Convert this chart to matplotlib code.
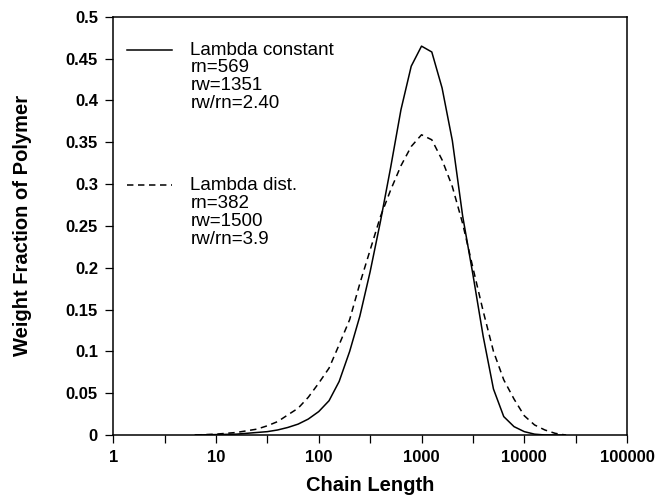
"""Weight fraction of polymer vs chain length, lambda constant vs lambda distribution."""
import matplotlib
matplotlib.use("Agg")
import matplotlib.pyplot as plt
from matplotlib.lines import Line2D

plt.rcParams["font.family"] = ["Liberation Sans", "DejaVu Sans"]

# chain lengths (log spaced)
chain = [6.3, 10, 15.8, 25, 31.6, 39.8, 50, 63, 79, 100, 126, 158, 200, 251, 316,
         398, 501, 631, 794, 1000, 1259, 1585, 1995, 2512, 3162, 3981, 5012, 6310,
         7943, 10000, 12589, 15849, 19953, 25119]

lam_const = [0.0, 0.0005, 0.001, 0.003, 0.004, 0.006, 0.009, 0.013, 0.019, 0.028,
             0.041, 0.064, 0.100, 0.142, 0.195, 0.255, 0.320, 0.389, 0.441, 0.465,
             0.458, 0.415, 0.352, 0.262, 0.192, 0.118, 0.055, 0.022, 0.010, 0.004,
             0.001, 0.0, 0.0, 0.0]

lam_dist = [0.0, 0.001, 0.003, 0.007, 0.011, 0.016, 0.024, 0.032, 0.045, 0.062,
            0.080, 0.108, 0.138, 0.181, 0.221, 0.261, 0.293, 0.322, 0.345, 0.359,
            0.353, 0.329, 0.297, 0.253, 0.200, 0.148, 0.100, 0.066, 0.043, 0.023,
            0.012, 0.006, 0.002, 0.0]

xticks = [1, 10, 100, 1000, 10000, 100000]
xticklabels = ["1", "10", "100", "1000", "10000", "100000"]
xminor = [3.162, 31.62, 316.2, 3162, 31623]
yticks = [0, 0.05, 0.1, 0.15, 0.2, 0.25, 0.3, 0.35, 0.4, 0.45, 0.5]
yticklabels = ["0", "0.05", "0.1", "0.15", "0.2", "0.25", "0.3", "0.35", "0.4", "0.45", "0.5"]

label_const = "Lambda constant\nrn=569\nrw=1351\nrw/rn=2.40"
label_dist = "Lambda dist.\nrn=382\nrw=1500\nrw/rn=3.9"

DASH = (0, (4.2, 3))

fig = plt.figure(figsize=(6.58, 4.96), dpi=100)
ax = fig.add_axes([0.172, 0.123, 0.781, 0.843])

ax.plot(chain, lam_const, color="black", lw=1.1)
ax.plot(chain, lam_dist, color="black", lw=1.1, linestyle=DASH)

ax.set_xscale("log")
ax.set_xlim(1, 100000)
ax.set_ylim(0, 0.5)
ax.set_xticks(xticks)
ax.set_xticklabels(xticklabels)
ax.set_xticks(xminor, minor=True)
ax.set_xticklabels([""] * len(xminor), minor=True)
ax.set_yticks(yticks)
ax.set_yticklabels(yticklabels)
ax.tick_params(axis="both", which="both", direction="out", length=6, width=0.9,
               labelsize=12, pad=5)
for lab in ax.get_xticklabels() + ax.get_yticklabels():
    lab.set_fontweight("bold")

for s in ax.spines.values():
    s.set_linewidth(1.1)

ax.set_xlabel("Chain Length", fontsize=14.5, fontweight="bold")
ax.set_ylabel("Weight Fraction of Polymer", fontsize=14.5, fontweight="bold")
ax.xaxis.set_label_coords(0.5, -0.097)
ax.yaxis.set_label_coords(-0.158, 0.5)

# hand-made legend
ax.add_line(Line2D([0.027, 0.115], [0.921, 0.921], transform=ax.transAxes,
                   color="black", lw=1.1))
ax.add_line(Line2D([0.027, 0.115], [0.598, 0.598], transform=ax.transAxes,
                   color="black", lw=1.1, linestyle=DASH))
ax.text(0.150, 0.941, label_const, transform=ax.transAxes, fontsize=13.5,
        va="top", ha="left", linespacing=1.07)
ax.text(0.150, 0.617, label_dist, transform=ax.transAxes, fontsize=13.5,
        va="top", ha="left", linespacing=1.07)

fig.savefig("out.png", dpi=100, facecolor="white")
